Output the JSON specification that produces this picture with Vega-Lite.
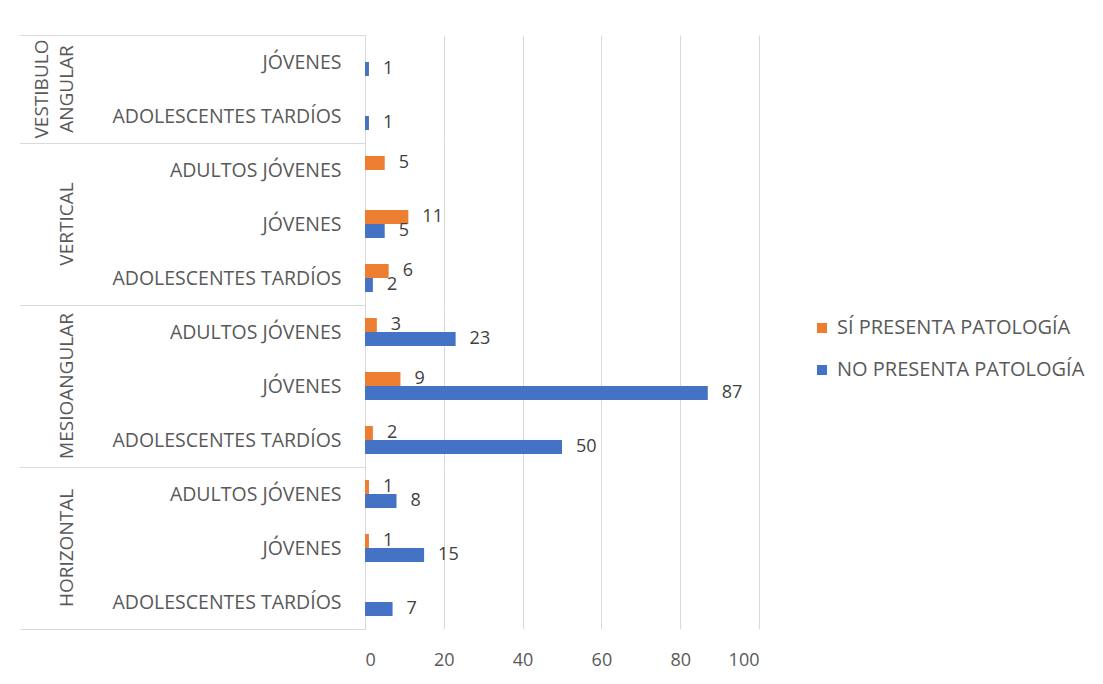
{
  "$schema": "https://vega.github.io/schema/vega-lite/v6.json",
  "background": "white",
  "padding": {"left": 19, "top": 25, "right": 5, "bottom": 5},
  "data": {"values": [
    {"grupo": "HORIZONTAL", "edad": "ADOLESCENTES TARDÍOS", "serie": "NO PRESENTA PATOLOGÍA", "valor": 7},
    {"grupo": "HORIZONTAL", "edad": "JÓVENES", "serie": "SÍ PRESENTA PATOLOGÍA", "valor": 1},
    {"grupo": "HORIZONTAL", "edad": "JÓVENES", "serie": "NO PRESENTA PATOLOGÍA", "valor": 15},
    {"grupo": "HORIZONTAL", "edad": "ADULTOS JÓVENES", "serie": "SÍ PRESENTA PATOLOGÍA", "valor": 1},
    {"grupo": "HORIZONTAL", "edad": "ADULTOS JÓVENES", "serie": "NO PRESENTA PATOLOGÍA", "valor": 8},
    {"grupo": "MESIOANGULAR", "edad": "ADOLESCENTES TARDÍOS", "serie": "SÍ PRESENTA PATOLOGÍA", "valor": 2},
    {"grupo": "MESIOANGULAR", "edad": "ADOLESCENTES TARDÍOS", "serie": "NO PRESENTA PATOLOGÍA", "valor": 50},
    {"grupo": "MESIOANGULAR", "edad": "JÓVENES", "serie": "SÍ PRESENTA PATOLOGÍA", "valor": 9},
    {"grupo": "MESIOANGULAR", "edad": "JÓVENES", "serie": "NO PRESENTA PATOLOGÍA", "valor": 87},
    {"grupo": "MESIOANGULAR", "edad": "ADULTOS JÓVENES", "serie": "SÍ PRESENTA PATOLOGÍA", "valor": 3},
    {"grupo": "MESIOANGULAR", "edad": "ADULTOS JÓVENES", "serie": "NO PRESENTA PATOLOGÍA", "valor": 23},
    {"grupo": "VERTICAL", "edad": "ADOLESCENTES TARDÍOS", "serie": "SÍ PRESENTA PATOLOGÍA", "valor": 6},
    {"grupo": "VERTICAL", "edad": "ADOLESCENTES TARDÍOS", "serie": "NO PRESENTA PATOLOGÍA", "valor": 2},
    {"grupo": "VERTICAL", "edad": "JÓVENES", "serie": "SÍ PRESENTA PATOLOGÍA", "valor": 11},
    {"grupo": "VERTICAL", "edad": "JÓVENES", "serie": "NO PRESENTA PATOLOGÍA", "valor": 5},
    {"grupo": "VERTICAL", "edad": "ADULTOS JÓVENES", "serie": "SÍ PRESENTA PATOLOGÍA", "valor": 5},
    {"grupo": "VESTIBULO ANGULAR", "edad": "ADOLESCENTES TARDÍOS", "serie": "NO PRESENTA PATOLOGÍA", "valor": 1},
    {"grupo": "VESTIBULO ANGULAR", "edad": "JÓVENES", "serie": "NO PRESENTA PATOLOGÍA", "valor": 1}
  ]},
  "facet": {
    "row": {
      "field": "grupo",
      "type": "nominal",
      "sort": ["VESTIBULO ANGULAR", "VERTICAL", "MESIOANGULAR", "HORIZONTAL"],
      "title": null,
      "header": {
        "labelAngle": -90,
        "labelOrient": "left",
        "labelAlign": "center",
        "labelFont": "Open Sans",
        "labelFontSize": 19,
        "labelColor": "#595959",
        "labelPadding": 279,
        "labelLineHeight": 25,
        "labelExpr": "datum.value == 'VESTIBULO ANGULAR' ? ['VESTIBULO', 'ANGULAR'] : datum.value"
      }
    }
  },
  "spacing": 0,
  "bounds": "flush",
  "resolve": {"scale": {"y": "independent", "yOffset": "independent"}},
  "spec": {
    "width": 394,
    "height": {"step": 54, "for": "position"},
    "encoding": {
      "y": {
        "field": "edad",
        "type": "nominal",
        "sort": ["ADULTOS JÓVENES", "JÓVENES", "ADOLESCENTES TARDÍOS"],
        "scale": {"paddingInner": 0, "paddingOuter": 0},
        "axis": {
          "title": null,
          "domainColor": "#d9d9d9",
          "tickBand": "extent",
          "tickSize": 345,
          "tickColor": "#d9d9d9",
          "tickOpacity": {"condition": {"test": "datum.index == 1 || datum.extra", "value": 1}, "value": 0},
          "labelPadding": -321,
          "labelLimit": 400,
          "labelFont": "Open Sans",
          "labelFontSize": 19.5,
          "labelColor": "#595959"
        }
      },
      "yOffset": {
        "field": "serie",
        "type": "nominal",
        "scale": {"domain": ["SÍ PRESENTA PATOLOGÍA", "NO PRESENTA PATOLOGÍA"], "paddingInner": 0, "paddingOuter": 0.93}
      },
      "x": {
        "field": "valor",
        "type": "quantitative",
        "scale": {"domain": [0, 100]},
        "axis": {
          "title": null,
          "values": [0, 20, 40, 60, 80, 100],
          "domain": false,
          "ticks": false,
          "gridColor": "#d9d9d9",
          "labelPadding": 22,
          "labelFont": "Open Sans",
          "labelFontSize": 18,
          "labelColor": "#595959"
        }
      }
    },
    "layer": [
      {
        "mark": {"type": "bar"},
        "encoding": {
          "color": {
            "field": "serie",
            "type": "nominal",
            "scale": {"domain": ["SÍ PRESENTA PATOLOGÍA", "NO PRESENTA PATOLOGÍA"], "range": ["#ED7D31", "#4472C4"]},
            "legend": {
              "title": null,
              "orient": "none",
              "legendX": 447,
              "legendY": 283,
              "symbolType": "square",
              "symbolSize": 100,
              "symbolStrokeWidth": 0,
              "labelFont": "Open Sans",
              "labelFontSize": 20,
              "labelColor": "#595959",
              "labelLimit": 400,
              "labelOffset": 5,
              "rowPadding": 22
            }
          }
        }
      },
      {
        "mark": {"type": "text", "align": "left", "baseline": "middle", "dx": 14, "font": "Open Sans", "fontSize": 18, "color": "#404040"},
        "encoding": {"text": {"field": "valor", "type": "quantitative"}}
      }
    ]
  },
  "config": {"view": {"stroke": null}}
}
